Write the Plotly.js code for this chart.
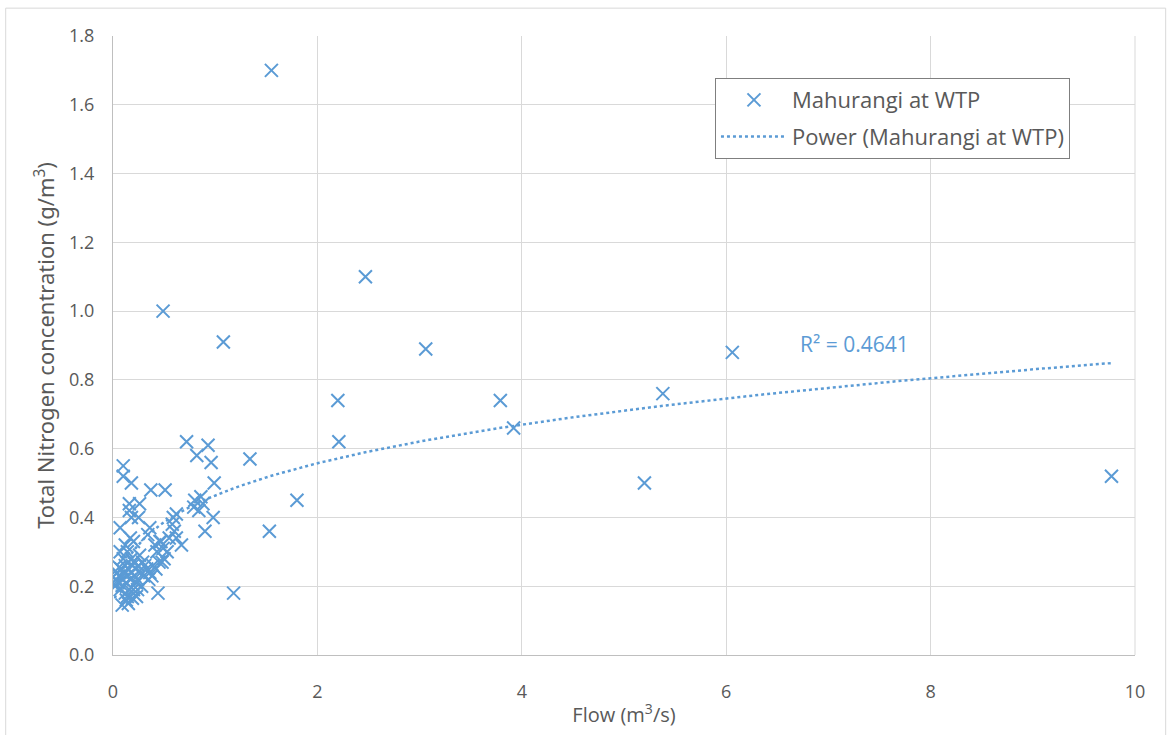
<!DOCTYPE html>
<html><head><meta charset="utf-8">
<script src="https://cdn.plot.ly/plotly-3.0.1.min.js"></script>
<style>html,body{margin:0;padding:0;background:#fff;}#chart{width:1171px;height:735px;}</style>
</head><body><div id="chart"></div>
<script>
// Flow (m3/s)
const flow = [1.55,2.47,0.49,1.08,3.06,6.06,2.20,3.79,5.38,3.92,2.21,0.72,0.93,0.82,1.34,0.96,0.10,0.10,0.18,0.99,5.20,9.77,0.37,0.51,1.80,0.80,0.86,0.79,0.88,0.84,0.16,0.26,0.16,0.18,0.25,0.98,0.62,0.59,0.58,0.07,0.36,0.60,0.90,1.53,0.17,0.34,0.46,0.62,0.12,0.20,0.41,0.49,0.67,0.43,0.07,0.26,0.18,1.18,0.44,
  0.33,0.39,0.48,0.50,0.30,0.35,0.23,0.20,0.13,0.09,0.23,0.15,0.02,0.03,0.04,0.05,0.06,0.08,0.09,0.10,0.11,0.12,0.13,0.14,0.15,0.16,0.17,0.18,0.19,0.20,0.21,0.22,0.24,0.25,0.27,0.28,0.29,0.31,0.12,0.14,0.07,0.04,0.06,0.10,0.14,0.11,0.19,0.24,0.36,0.42,0.45,0.38,0.53,0.47,0.55];
// Total Nitrogen (g/m3)
const tn = [1.70,1.10,1.00,0.91,0.89,0.88,0.74,0.74,0.76,0.66,0.62,0.62,0.61,0.58,0.57,0.56,0.55,0.52,0.50,0.50,0.50,0.52,0.48,0.48,0.45,0.45,0.46,0.43,0.44,0.42,0.44,0.44,0.42,0.40,0.40,0.40,0.41,0.40,0.38,0.37,0.37,0.36,0.36,0.36,0.34,0.35,0.33,0.34,0.32,0.33,0.32,0.31,0.32,0.30,0.30,0.29,0.28,0.18,0.18,
  0.25,0.26,0.27,0.28,0.23,0.22,0.21,0.19,0.16,0.145,0.17,0.15,0.20,0.22,0.24,0.21,0.23,0.25,0.22,0.20,0.24,0.26,0.21,0.23,0.25,0.19,0.22,0.24,0.26,0.27,0.23,0.25,0.22,0.26,0.24,0.20,0.27,0.26,0.18,0.17,0.19,0.215,0.255,0.28,0.30,0.235,0.165,0.19,0.24,0.25,0.27,0.23,0.30,0.33,0.34];
// Power trendline coefficients: y = a * x^b
const trendA = 0.464;
const trendB = 0.265;
const rSquaredLabel = "R² = 0.4641";
const xTicks = [0,2,4,6,8,10];
const yTicks = [0,0.2,0.4,0.6,0.8,1.0,1.2,1.4,1.6,1.8];

const xmin = Math.min(...flow), xmax = Math.max(...flow);
const tx = [], ty = [];
const nT = 200;
for (let i = 0; i <= nT; i++) {
  const x = xmin + (xmax - xmin) * i / nT;
  tx.push(x); ty.push(trendA * Math.pow(x, trendB));
}
const blue = '#5B9BD5';
const grey = '#595959';
const data = [
  {x: flow, y: tn, type: 'scatter', mode: 'markers', name: 'Mahurangi at WTP', legendgroup: 'a',
   marker: {symbol: 'x-thin-open', size: 13, color: blue, line: {color: blue, width: 2}}},
  {x: tx, y: ty, type: 'scatter', mode: 'lines', name: 'Power (Mahurangi at WTP)', legendgroup: 'b',
   line: {color: blue, width: 2.5, dash: 'dot'}, hoverinfo: 'skip'}
];
const layout = {
  width: 1171, height: 735,
  margin: {l: 113, r: 36, t: 36, b: 80},
  paper_bgcolor: '#fff', plot_bgcolor: '#fff',
  font: {family: 'Open Sans, Noto Sans, sans-serif', color: grey, size: 18},
  showlegend: true,
  legend: {x: 0.589, y: 0.932, xanchor: 'left', yanchor: 'top', bgcolor: '#fff',
    bordercolor: '#7f7f7f', borderwidth: 1, font: {size: 22, color: grey},
    itemwidth: 66, tracegroupgap: 5},
  xaxis: {range: [0, 10], tickvals: xTicks, ticktext: xTicks.map(String), showgrid: true,
    gridcolor: '#d9d9d9', gridwidth: 1, zeroline: false, showline: true, linecolor: '#bfbfbf',
    linewidth: 1, ticks: '', ticklabelstandoff: 20, tickfont: {size: 18, color: grey},
    title: {text: 'Flow (m<sup>3</sup>/s)', font: {size: 20, color: grey}, standoff: 6}},
  yaxis: {range: [0, 1.8], tickvals: yTicks, ticktext: yTicks.map(v => v.toFixed(1)), showgrid: true,
    gridcolor: '#d9d9d9', gridwidth: 1, zeroline: false, showline: true, linecolor: '#bfbfbf',
    linewidth: 1, ticks: '', ticklabelstandoff: 14, tickfont: {size: 18, color: grey},
    title: {text: 'Total Nitrogen concentration (g/m<sup>3</sup>)', font: {size: 22, color: grey, family: 'Noto Sans, sans-serif'}, standoff: 8}},
  annotations: [{x: 7.26, y: 0.904, xref: 'x', yref: 'y', text: rSquaredLabel, showarrow: false,
    xanchor: 'center', font: {size: 21, color: blue}}],
  shapes: [{type: 'rect', xref: 'paper', yref: 'paper', x0: -0.105, x1: 1.03, y0: -0.15, y1: 1.045,
    line: {color: '#d9d9d9', width: 1}, fillcolor: 'rgba(0,0,0,0)', layer: 'below'},
    {type: 'line', xref: 'paper', yref: 'paper', x0: 1, x1: 1, y0: 0, y1: 1, line: {color: '#d9d9d9', width: 1}}]
};
Plotly.newPlot('chart', data, layout, {displayModeBar: false, staticPlot: true});
</script>
</body></html>
